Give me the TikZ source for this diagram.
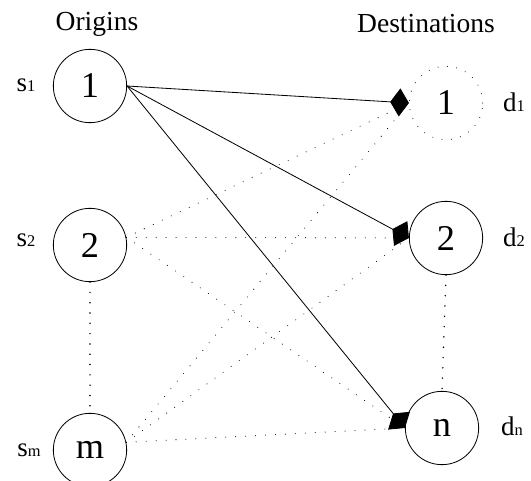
\documentclass[tikz,border=0pt]{standalone}
\usepackage{fontspec}
\setmainfont{Liberation Serif}
\usetikzlibrary{arrows.meta}

\tikzset{
    site/.style={draw, line width=0.7pt, circle, minimum size=2.2cm, inner sep=0pt, font=\fontsize{31}{33}\selectfont},
    ghost/.style={site, draw=none},
    flow/.style={line width=0.7pt, -{Diamond[length=16pt,width=24pt]}},
    idle/.style={line width=0.9pt, line cap=round, dash pattern=on 0pt off 8.5pt, shorten >=8pt},
    gap/.style={line width=1.4pt, line cap=round, dash pattern=on 0pt off 8.8pt},
    head/.style={font=\fontsize{23.5}{26}\selectfont},
    side/.style={font=\fontsize{23}{25}\selectfont}
}
\newcommand{\sublab}[2]{#1{\fontsize{14}{16}\selectfont #2}}

\begin{document}
\begin{tikzpicture}[x=0.03cm,y=-0.03cm]
    \useasboundingbox (0,0) rectangle (531,481);

    % Column titles
    \node[head] (otitle) at (97,24) {Origins};
    \node[head] (dtitle) at (426,24) {Destinations};

    % Origin nodes
    \node[site] (o1) at (90,86) {1};
    \node[site] (o2) at (90,245) {2};
    \node[site] (om) at (90,450) {m};

    % Destination nodes
    \node[ghost] (d1) at (446,103) {1};
    \draw[gap, line width=0.9pt, dash pattern=on 0pt off 8pt] (d1) circle (1.1cm);
    \node[site] (d2) at (446,238) {2};
    \node[site] (dn) at (442,428) {n};

    % Supply and demand labels
    \node[side] (s1) at (26,85) {\sublab{s}{1}};
    \node[side] (s2) at (26,240) {\sublab{s}{2}};
    \node[side] (sm) at (29,450) {\sublab{s}{m}};
    \node[side] (l1) at (514,102) {\sublab{d}{1}};
    \node[side] (l2) at (514,237) {\sublab{d}{2}};
    \node[side] (ln) at (512,426) {\sublab{d}{n}};

    % Used routes from origin 1
    \foreach \d in {d1,d2,dn}
        \draw[flow] (o1.east) -- (\d.west);

    % Unused routes
    \foreach \o in {o2,om}
        \foreach \d in {d1,d2,dn}
            \draw[idle] (\o.12) -- (\d.west);

    % Omitted nodes
    \draw[gap] (o2.south) -- (om.north);
    \draw[gap] (d2.south) -- (dn.north);

\end{tikzpicture}
\end{document}
